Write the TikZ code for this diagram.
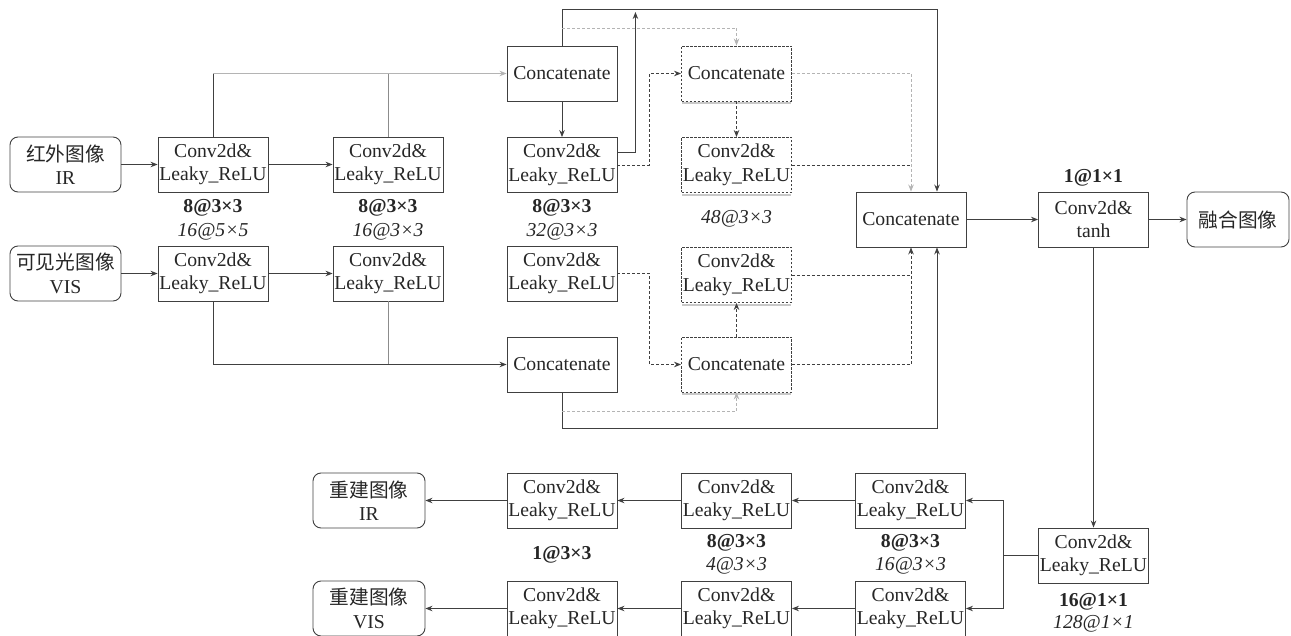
\documentclass[tikz,border=0pt]{standalone}
\usepackage{fontspec}
\setmainfont{Liberation Serif}
\newfontfamily\cjk{Noto Sans CJK SC}
\usetikzlibrary{arrows.meta}
\definecolor{dk}{HTML}{404040}
\definecolor{lg}{HTML}{B4B4B4}
\definecolor{mg}{HTML}{8C8C8C}
\definecolor{sh}{HTML}{C8C8C8}
\begin{document}
\begin{tikzpicture}[x=1pt,y=-1pt,
  every node/.style={font=\rmfamily\fontsize{19.7}{23.5}\selectfont, text=black!85},
  box/.style={draw=dk, line width=0.9pt, minimum width=110pt, minimum height=55pt, inner sep=0pt, align=center},
  dbox/.style={box, dash pattern=on 2.5pt off 1.5pt},
  rbox/.style={box, rounded corners=8pt},
  lab/.style={inner sep=0pt},
  ln/.style={draw=dk, line width=0.9pt},
  arr/.style={ln, -{Stealth[length=7pt,width=5.5pt]}},
  dln/.style={ln, dash pattern=on 3pt off 2pt},
  darr/.style={arr, dash pattern=on 3pt off 2pt},
  light/.style={draw=lg},
  shadowline/.style={draw=sh, line width=1.6pt}
]
\useasboundingbox (0,0) rectangle (1291,636);
\coordinate (top) at (0,9);
\coordinate (topa) at (0,12);
\coordinate (dl1) at (0,28);
\coordinate (bot) at (0,428);
\coordinate (dl2) at (0,411);

% inputs
\node[rbox, minimum width=111pt] (inIR) at (65.5,164.5) {{\cjk 红外图像}\\IR};
\node[rbox, minimum width=111pt] (inVIS) at (65.5,273.5) {{\cjk 可见光图像}\\VIS};
% encoder
\node[box] (c1i) at (213,164.5) {Conv2d\&\\Leaky\_ReLU};
\node[box] (c1v) at (213,273.5) {Conv2d\&\\Leaky\_ReLU};
\node[box] (c2i) at (388,164.5) {Conv2d\&\\Leaky\_ReLU};
\node[box] (c2v) at (388,273.5) {Conv2d\&\\Leaky\_ReLU};
\node[box] (cat1) at (562,73.5) {Concatenate};
\node[box] (c3i) at (562,165) {Conv2d\&\\Leaky\_ReLU};
\node[box] (c3v) at (562,273.5) {Conv2d\&\\Leaky\_ReLU};
\node[box] (cat3) at (562,364.5) {Concatenate};
\node[dbox] (cat2) at (736.5,73.5) {Concatenate};
\node[dbox] (c4i) at (736.5,165) {Conv2d\&\\Leaky\_ReLU};
\node[dbox] (c4v) at (736.5,275) {Conv2d\&\\Leaky\_ReLU};
\node[dbox] (cat4) at (736.5,364.5) {Concatenate};
\node[box] (big) at (911,219.5) {Concatenate};
\node[box] (tanh) at (1093.5,219.5) {Conv2d\&\\tanh};
\node[rbox, minimum width=102pt] (fused) at (1238,219.5) {{\cjk 融合图像}};
% decoder
\node[box] (conv5) at (1093.5,555.5) {Conv2d\&\\Leaky\_ReLU};
\node[box] (d1i) at (910.5,500.5) {Conv2d\&\\Leaky\_ReLU};
\node[box] (d1v) at (910.5,608.5) {Conv2d\&\\Leaky\_ReLU};
\node[box] (d2i) at (736.5,500.5) {Conv2d\&\\Leaky\_ReLU};
\node[box] (d2v) at (736.5,608.5) {Conv2d\&\\Leaky\_ReLU};
\node[box] (d3i) at (562,500.5) {Conv2d\&\\Leaky\_ReLU};
\node[box] (d3v) at (562,608.5) {Conv2d\&\\Leaky\_ReLU};
\node[rbox, minimum width=112pt] (oi) at (369,500.5) {{\cjk 重建图像}\\IR};
\node[rbox, minimum width=112pt] (ov) at (369,608.5) {{\cjk 重建图像}\\VIS};

% shadows under dashed boxes
\foreach \n in {cat2,c4i,c4v,cat4}
  \draw[shadowline] ([yshift=-1.8pt,xshift=1pt]\n.south west) -- ([yshift=-1.8pt,xshift=-1pt]\n.south east);

% labels
\node[lab] (l1a) at (213,208) {\textbf{8@3×3}};
\node[lab] (l1b) at (213,232) {\textit{16@5×5}};
\node[lab] (l2a) at (388,208) {\textbf{8@3×3}};
\node[lab] (l2b) at (388,232) {\textit{16@3×3}};
\node[lab] (l3a) at (562,208) {\textbf{8@3×3}};
\node[lab] (l3b) at (562,232) {\textit{32@3×3}};
\node[lab] (l4) at (736.5,219) {\textit{48@3×3}};
\node[lab] (lt) at (1093.5,178) {\textbf{1@1×1}};
\node[lab] (l5a) at (1093.5,602) {\textbf{16@1×1}};
\node[lab] (l5b) at (1093.5,624) {\textit{128@1×1}};
\node[lab] (ld1a) at (910.5,543) {\textbf{8@3×3}};
\node[lab] (ld1b) at (910.5,566) {\textit{16@3×3}};
\node[lab] (ld2a) at (736.5,543) {\textbf{8@3×3}};
\node[lab] (ld2b) at (736.5,566) {\textit{4@3×3}};
\node[lab] (ld3) at (562,555) {\textbf{1@3×3}};

% encoder connections
\draw[arr] (inIR) -- (c1i);
\draw[arr] (c1i) -- (c2i);
\draw[arr] (inVIS) -- (c1v);
\draw[arr] (c1v) -- (c2v);
\draw[ln] (c1i.north) -- (c1i.north |- cat1.west);
\draw[ln, draw=mg] (c2i.north) -- (c2i.north |- cat1.west);
\draw[arr, light] (c1i.north |- cat1.west) -- (cat1.west);
\draw[ln] (c1v.south) -- (c1v.south |- cat3.west);
\draw[ln, draw=mg] (c2v.south) -- (c2v.south |- cat3.west);
\draw[arr] (c1v.south |- cat3.west) -- (cat3.west);

\draw[arr] (cat1) -- (c3i);
\draw[arr] (cat1.north) -- (cat1.north |- top) -| ([xshift=26pt]big.north);
\draw[arr] ([yshift=13pt]c3i.east) -| ([xshift=18pt]c3i.east |- topa);
\draw[darr, light] (cat1.north |- dl1) -| (cat2.north);
\draw[darr] (c3i.east) -- ([xshift=32pt]c3i.east) |- (cat2.west);
\draw[darr] (cat2) -- (c4i);
\draw[darr, light] (cat2.east) -| (big.north);
\draw[dln] (c4i.east) -- (c4i.east -| big.north);

\draw[darr] (c3v.east) -- ([xshift=32pt]c3v.east) |- (cat4.west);
\draw[arr] (cat3.south) -- (cat3.south |- bot) -| ([xshift=26pt]big.south);
\draw[darr, light] (cat3.south |- dl2) -| (cat4.south);
\draw[darr] (cat4) -- (c4v);
\draw[darr] (cat4.east) -| (big.south);
\draw[dln] (c4v.east) -- (c4v.east -| big.south);

\draw[arr] (big) -- (tanh);
\draw[arr] (tanh) -- (fused);
\draw[arr] (tanh) -- (conv5);

% decoder connections
\draw[ln] (conv5.west) -- ([xshift=-35pt]conv5.west) coordinate (sp);
\draw[arr] (sp) |- (d1i.east);
\draw[arr] (sp) |- (d1v.east);
\draw[arr] (d1i) -- (d2i);
\draw[arr] (d2i) -- (d3i);
\draw[arr] (d3i) -- (oi);
\draw[arr] (d1v) -- (d2v);
\draw[arr] (d2v) -- (d3v);
\draw[arr] (d3v) -- (ov);
\end{tikzpicture}
\end{document}
